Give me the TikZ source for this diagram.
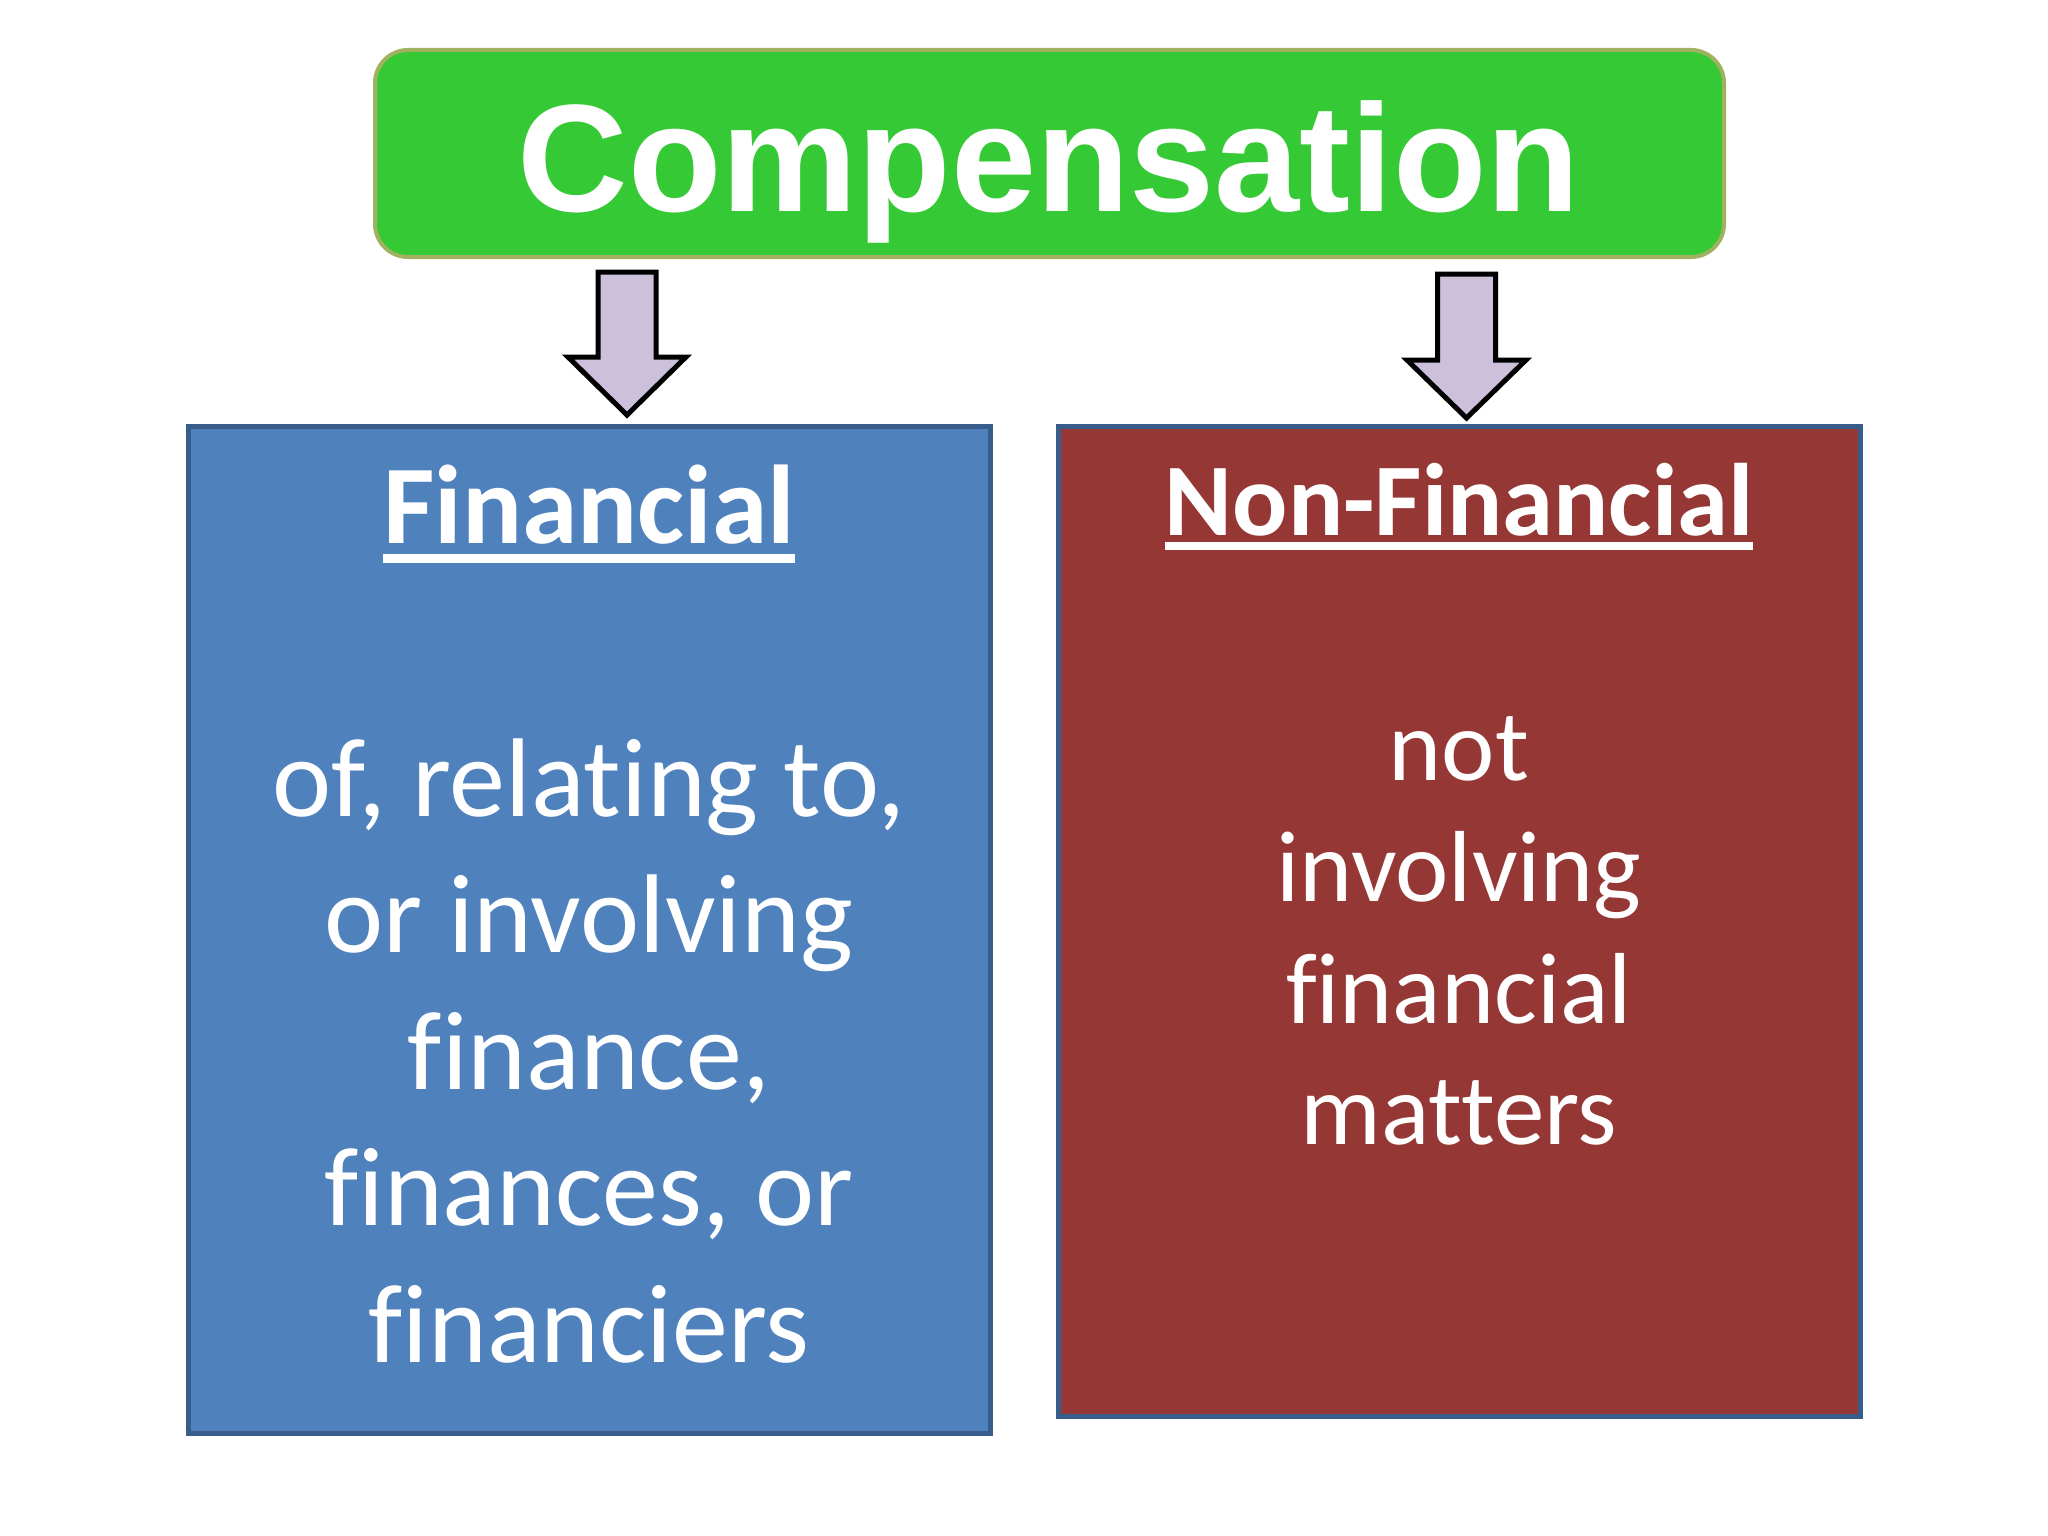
\documentclass[tikz,border=0pt]{standalone}
\usepackage{fontspec}
\setmainfont{Carlito}[Ligatures=NoCommon]
\newfontfamily\titlefont{Liberation Sans}
\definecolor{greenfill}{RGB}{53,201,53}
\definecolor{greenedge}{RGB}{160,178,95}
\definecolor{bluefill}{RGB}{79,129,189}
\definecolor{blueedge}{RGB}{56,93,138}
\definecolor{redfill}{RGB}{149,55,53}
\definecolor{arrowfill}{RGB}{204,192,218}
\newcommand\ulin[2][-0.18em]{\setbox0\hbox{#2}\rlap{\rule[#1]{\wd0}{0.085em}}\box0}
\begin{document}
\begin{tikzpicture}[x=1pt,y=-1pt,
  titlebox/.style={draw=greenedge,fill=greenfill,line width=4pt,rounded corners=33pt},
  panel/.style={draw=blueedge,line width=5pt,rectangle,inner sep=0pt,outer sep=0pt},
  blockarrow/.style={draw=black,fill=arrowfill,line width=5pt,miter limit=10},
  headtext/.style={anchor=base,text=white},
  bodytext/.style={anchor=base,text=white,align=center}]
\useasboundingbox (0,0) rectangle (2048,1536);
\fill[white] (0,0) rectangle (2048,1536);
% title
\draw[titlebox] (375,50) rectangle (1724,257);
\node[anchor=base,text=white,font=\titlefont\bfseries\fontsize{153}{160}\selectfont] (comp) at (1049,211) {Compensation};
% panels
\node[panel,fill=bluefill,minimum width=802pt,minimum height=1007pt] (fin) at (589,929.5) {};
\node[panel,fill=redfill,minimum width=802pt,minimum height=990pt] (nonfin) at (1459,921) {};
% arrows
\draw[blockarrow] (598,272) -- (656,272) -- (656,357) -- (686,357) -- (627,415) -- (568,357) -- (598,357) -- cycle;
\draw[blockarrow] (1437.5,274) -- (1495.5,274) -- (1495.5,360) -- (1526,360) -- (1466.5,418) -- (1407,360) -- (1437.5,360) -- cycle;
% texts
\node[headtext,font=\bfseries\fontsize{112}{134}\selectfont] (finhead) at (589,543) {\ulin{Financial}};
\node[headtext,font=\bfseries\fontsize{103}{124}\selectfont] (nonfinhead) at (1459,535) {\ulin[-0.15em]{Non-Financial}};
\node[bodytext,font=\fontsize{112}{136.5}\selectfont] (finbody) at (589,1362) {of, relating to,\\or involving\\finance,\\finances, or\\financiers};
\node[bodytext,font=\fontsize{101}{121.5}\selectfont] (nonfinbody) at (1459,1144.5) {not\\involving\\financial\\matters};
\end{tikzpicture}
\end{document}
